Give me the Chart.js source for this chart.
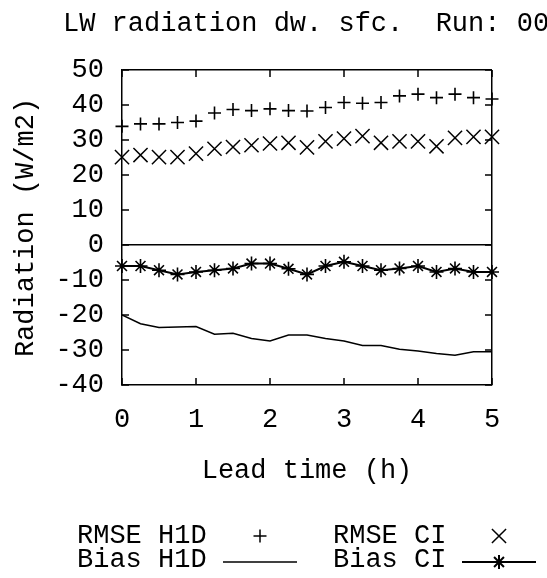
<!DOCTYPE html>
<html>
<head>
<meta charset="utf-8">
<script src="https://cdn.jsdelivr.net/npm/chart.js@4.4.1/dist/chart.umd.min.js"></script>
<style>
  html, body { margin: 0; padding: 0; background: #fff; }
  #chart { display: block; }
</style>
</head>
<body>
<canvas id="chart" width="547" height="578"></canvas>
<script>
// ── 資料 ──────────────────────────────────────
const TITLE = "LW radiation dw. sfc.  Run: 00";
const X_TITLE = "Lead time (h)";
const Y_TITLE = "Radiation (W/m2)";

const leadTime = [0, 0.25, 0.5, 0.75, 1, 1.25, 1.5, 1.75, 2, 2.25, 2.5,
                  2.75, 3, 3.25, 3.5, 3.75, 4, 4.25, 4.5, 4.75, 5];
const rmseH1D = [33.9, 34.6, 34.6, 35.0, 35.4, 37.7, 38.7, 38.4, 38.9, 38.4, 38.3,
                 39.3, 40.7, 40.5, 40.7, 42.6, 43.1, 42.1, 43.1, 42.1, 41.7];
const rmseCI  = [25.1, 25.7, 25.1, 25.1, 26.1, 27.5, 28.0, 28.5, 29.0, 29.2, 27.9,
                 29.6, 30.4, 31.1, 29.2, 29.6, 29.6, 28.2, 30.6, 30.9, 30.9];
const biasH1D = [-20.0, -22.5, -23.6, -23.4, -23.3, -25.5, -25.2, -26.7, -27.4, -25.7, -25.7,
                 -26.7, -27.4, -28.7, -28.7, -29.8, -30.3, -31.0, -31.5, -30.5, -30.5];
const biasCI  = [-6.0, -6.0, -7.2, -8.4, -7.7, -7.2, -6.7, -5.3, -5.3, -6.8, -8.4,
                 -6.0, -4.8, -6.0, -7.2, -6.7, -6.0, -7.7, -6.7, -7.7, -7.7];

const xTickValues = [0, 1, 2, 3, 4, 5];
const yTickValues = [-40, -30, -20, -10, 0, 10, 20, 30, 40, 50];

// ── 版面 ──────────────────────────────────────
const FONT = "'Liberation Mono', 'DejaVu Sans Mono', monospace";
const FONT_SIZE = 27;
const INK = "#000";
const TICK_LEN = 7;
const LEGEND_TEXT_X = [77, 333];
const LEGEND_SAMPLE_X = [260, 499];
const LEGEND_ROW_Y = [536, 560];

Chart.defaults.font.family = FONT;
Chart.defaults.font.size = FONT_SIZE;
Chart.defaults.color = INK;

const toPoints = ys => ys.map((v, i) => ({ x: leadTime[i], y: v }));

// 邊框內側刻度、標題、圖例（gnuplot 風格）
const gnuplotDecor = {
  id: "gnuplotDecor",
  afterDraw(chart) {
    const { ctx, chartArea: a, scales: { x, y } } = chart;
    ctx.save();
    ctx.strokeStyle = INK;
    ctx.lineWidth = 1.5;
    ctx.beginPath();
    x.ticks.forEach(t => {
      const px = x.getPixelForValue(t.value);
      ctx.moveTo(px, a.bottom); ctx.lineTo(px, a.bottom - TICK_LEN);
      ctx.moveTo(px, a.top);    ctx.lineTo(px, a.top + TICK_LEN);
    });
    y.ticks.forEach(t => {
      const py = y.getPixelForValue(t.value);
      ctx.moveTo(a.left, py);  ctx.lineTo(a.left + TICK_LEN, py);
      ctx.moveTo(a.right, py); ctx.lineTo(a.right - TICK_LEN, py);
    });
    ctx.stroke();

    ctx.fillStyle = INK;
    ctx.font = `${FONT_SIZE}px ${FONT}`;
    ctx.textBaseline = "middle";
    ctx.textAlign = "left";
    ctx.fillText(TITLE, 63, 24);

    chart.data.datasets.forEach((ds, i) => {
      const col = i % 2, row = Math.floor(i / 2);
      const ty = LEGEND_ROW_Y[row], sx = LEGEND_SAMPLE_X[col];
      ctx.fillText(ds.label, LEGEND_TEXT_X[col], ty);
      ctx.strokeStyle = INK;
      if (ds.showLine !== false) {
        ctx.lineWidth = ds.borderWidth;
        ctx.beginPath();
        ctx.moveTo(sx - 37, ty + 2); ctx.lineTo(sx + 37, ty + 2);
        ctx.stroke();
      }
      if (ds.pointRadius > 0) {
        Chart.helpers.drawPoint(ctx, {
          pointStyle: ds.pointStyle, rotation: 0,
          radius: ds.pointRadius, borderWidth: ds.pointBorderWidth,
        }, sx, ds.showLine !== false ? ty + 2 : ty);
      }
    });
    ctx.restore();
  },
};

const frameColor = edges => c => edges.includes(c.tick.value) ? INK : "transparent";

new Chart(document.getElementById("chart"), {
  type: "line",
  data: {
    datasets: [
      {
        label: "RMSE H1D", data: toPoints(rmseH1D), showLine: false,
        pointStyle: "cross", pointRadius: 6.5, pointBorderWidth: 1.6,
        borderColor: INK, pointBorderColor: INK, clip: false,
      },
      {
        label: "RMSE CI", data: toPoints(rmseCI), showLine: false,
        pointStyle: "crossRot", pointRadius: 10, pointBorderWidth: 1.5,
        borderColor: INK, pointBorderColor: INK, clip: false,
      },
      {
        label: "Bias H1D", data: toPoints(biasH1D),
        borderColor: INK, borderWidth: 1.5, pointRadius: 0, tension: 0,
      },
      {
        label: "Bias CI", data: toPoints(biasCI),
        borderColor: INK, borderWidth: 2, tension: 0,
        pointStyle: "star", pointRadius: 7, pointBorderWidth: 1.6,
        pointBorderColor: INK, clip: false,
      },
    ],
  },
  options: {
    responsive: false,
    animation: false,
    layout: { padding: { left: 0, right: 55, top: 70, bottom: 91 } },
    plugins: { legend: { display: false }, tooltip: { enabled: false } },
    scales: {
      x: {
        type: "linear", min: 0, max: 5,
        afterBuildTicks: s => { s.ticks = xTickValues.map(v => ({ value: v })); },
        afterFit: s => { s.height = 102; },
        ticks: { padding: 19, color: INK, autoSkip: false, maxRotation: 0 },
        grid: { drawTicks: false, lineWidth: 1.5, color: frameColor([5]) },
        border: { display: true, color: INK, width: 1.5 },
        title: { display: true, text: X_TITLE, padding: { top: 0, bottom: 0 } },
      },
      y: {
        min: -40, max: 50,
        afterBuildTicks: s => { s.ticks = yTickValues.map(v => ({ value: v })); },
        afterFit: s => { s.width = 122; },
        ticks: { padding: 18, color: INK, autoSkip: false },
        grid: { drawTicks: false, lineWidth: 1.5, color: frameColor([0, 50]) },
        border: { display: true, color: INK, width: 1.5 },
        title: { display: true, text: Y_TITLE, padding: { top: 10, bottom: 0 } },
      },
    },
  },
  plugins: [gnuplotDecor],
});
</script>
</body>
</html>
